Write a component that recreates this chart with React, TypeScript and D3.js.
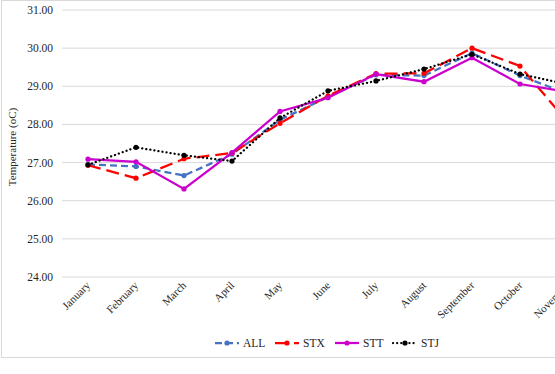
import { useEffect, useRef } from 'react'
import * as d3 from 'd3'

const W = 555, H = 374
const M = { left: 64, top: 10, bottom: 277 }
const BAND = 48

const months = ['January', 'February', 'March', 'April', 'May', 'June', 'July',
  'August', 'September', 'October', 'November', 'December']
const yTicks = [24, 25, 26, 27, 28, 29, 30, 31]

const allVals = [26.95, 26.9, 26.66, 27.22, 28.12, 28.72, 29.3, 29.28, 29.87, 29.28, 28.8]
const stxVals = [26.93, 26.59, 27.1, 27.25, 28.03, 28.75, 29.33, 29.34, 30.0, 29.53, 28.05]
const sttVals = [27.09, 27.02, 26.31, 27.26, 28.34, 28.7, 29.32, 29.12, 29.75, 29.06, 28.85]
const stjVals = [26.94, 27.4, 27.19, 27.04, 28.17, 28.88, 29.14, 29.45, 29.84, 29.32, 29.05]

const series = [
  { name: 'ALL', values: allVals, color: '#4472C4', dash: '7,4', width: 2.25, cap: 'butt' },
  { name: 'STX', values: stxVals, color: '#FF0000', dash: '13,6', width: 2.25, cap: 'butt' },
  { name: 'STT', values: sttVals, color: '#CC00CC', dash: null, width: 2.25, cap: 'butt' },
  { name: 'STJ', values: stjVals, color: '#000000', dash: '0.1,4', width: 2.25, cap: 'round' },
]

const FONT = '"Liberation Serif", serif'
const TXT = '#262626'

export default function App() {
  const ref = useRef<SVGSVGElement>(null)

  useEffect(() => {
    if (!ref.current) return
    const svg = d3.select(ref.current)
    svg.selectAll('*').remove()

    const x = d3.scaleBand().domain(months).range([M.left, M.left + BAND * months.length])
    const cx = (m: string) => (x(m) ?? 0) + x.bandwidth() / 2
    const y = d3.scaleLinear().domain([24, 31]).range([M.bottom, M.top])

    // chart frame
    svg.append('rect').attr('x', 1.5).attr('y', 0.5).attr('width', 700).attr('height', 357)
      .attr('fill', '#fff').attr('stroke', '#d9d9d9')

    // gridlines
    svg.append('g').selectAll('line').data(yTicks).join('line')
      .attr('x1', M.left - 2).attr('x2', 700)
      .attr('y1', d => y(d)).attr('y2', d => y(d))
      .attr('stroke', '#d9d9d9').attr('stroke-width', 1)

    // y labels
    svg.append('g').selectAll('text').data(yTicks).join('text')
      .attr('x', 53).attr('y', d => y(d) + 4)
      .attr('text-anchor', 'end')
      .attr('font-family', FONT).attr('font-size', 11.5)
      .attr('fill', TXT)
      .text(d => d.toFixed(2))

    svg.append('text')
      .attr('transform', 'translate(16,147) rotate(-90)')
      .attr('text-anchor', 'middle')
      .attr('font-family', FONT).attr('font-size', 11)
      .attr('fill', TXT)
      .text('Temperature  (oC)')

    // x labels
    svg.append('g').selectAll('text').data(months).join('text')
      .attr('transform', d => `translate(${cx(d) + 3},${M.bottom + 9}) rotate(-45)`)
      .attr('text-anchor', 'end')
      .attr('font-family', FONT).attr('font-size', 11)
      .attr('fill', TXT)
      .text(d => d)

    const line = d3.line<number>().x((_, i) => cx(months[i])).y(d => y(d))

    series.forEach(s => {
      const g = svg.append('g')
      g.append('path').attr('d', line(s.values))
        .attr('fill', 'none').attr('stroke', s.color)
        .attr('stroke-width', s.width)
        .attr('stroke-dasharray', s.dash)
        .attr('stroke-linecap', s.cap)
      g.selectAll('circle').data(s.values).join('circle')
        .attr('cx', (_, i) => cx(months[i])).attr('cy', d => y(d))
        .attr('r', 2.6).attr('fill', s.color)
    })

    // legend
    const legX = [215, 275, 335, 393]
    const leg = svg.append('g')
    series.forEach((s, i) => {
      const lx = legX[i], ly = 343
      leg.append('line').attr('x1', lx).attr('x2', lx + 24).attr('y1', ly).attr('y2', ly)
        .attr('stroke', s.color).attr('stroke-width', s.width)
        .attr('stroke-dasharray', s.dash).attr('stroke-linecap', s.cap)
      leg.append('circle').attr('cx', lx + 12).attr('cy', ly).attr('r', 2.6).attr('fill', s.color)
      leg.append('text').attr('x', lx + 28).attr('y', ly + 4)
        .attr('font-family', FONT).attr('font-size', 11.5)
        .attr('fill', TXT)
        .text(s.name)
    })
  }, [])

  return (
    <svg ref={ref} width={W} height={H}
      style={{ position: 'absolute', left: 0, top: 0, background: '#fff' }} />
  )
}
